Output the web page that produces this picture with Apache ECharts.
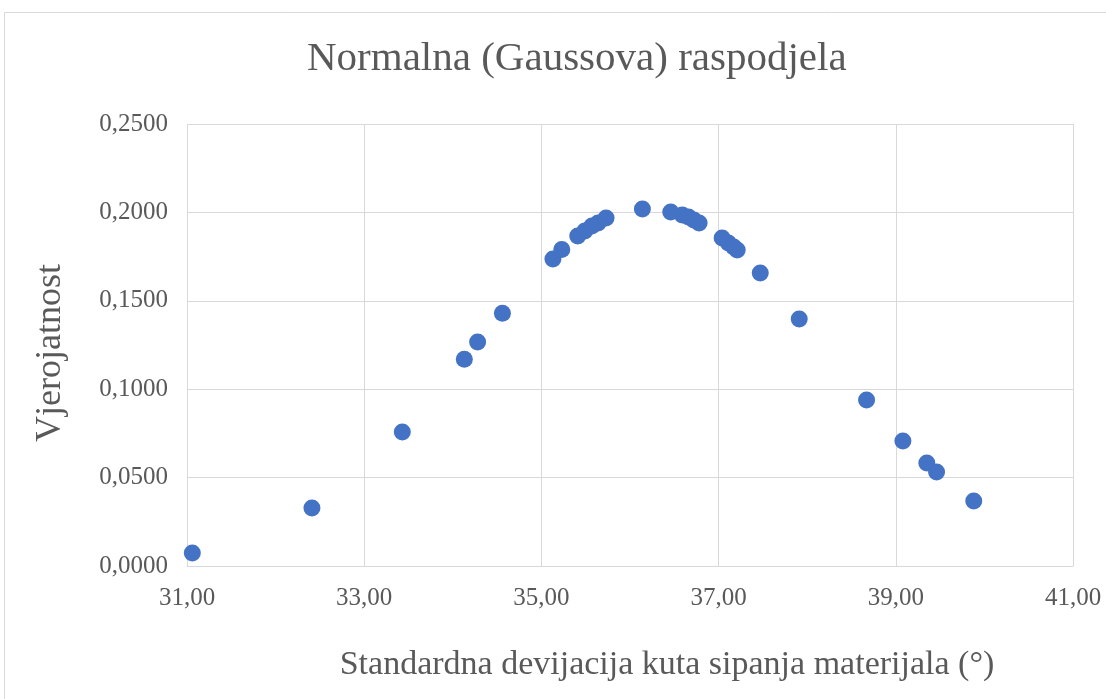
<!DOCTYPE html>
<html>
<head>
<meta charset="utf-8">
<script src="https://cdn.jsdelivr.net/npm/echarts@6/dist/echarts.min.js"></script>
<style>
  html, body { margin: 0; padding: 0; background: #fff; }
  #chart { width: 1106px; height: 699px; }
</style>
</head>
<body>
<div id="chart"></div>
<script>
  // standardna devijacija kuta sipanja (°)
  const xValues = [
    31.06, 32.41, 33.43, 34.13, 34.28, 34.56, 35.13, 35.23,
    35.41, 35.49, 35.57, 35.64, 35.73, 36.14, 36.46, 36.59,
    36.66, 36.72, 36.78, 37.04, 37.11, 37.17, 37.21, 37.47,
    37.91, 38.67, 39.08, 39.35, 39.46, 39.88
  ]
  // vjerojatnost
  const yValues = [
    0.0074, 0.0328, 0.0758, 0.1170, 0.1267, 0.1430, 0.1736, 0.1790,
    0.1866, 0.1895, 0.1923, 0.1940, 0.1968, 0.2019, 0.2002, 0.1985,
    0.1974, 0.1957, 0.1940, 0.1855, 0.1827, 0.1804, 0.1787, 0.1657,
    0.1397, 0.0939, 0.0707, 0.0583, 0.0532, 0.0368
  ]

  const points = xValues.map((x, i) => [x, yValues[i]])
  const serif = '"Liberation Serif", "DejaVu Serif", serif'
  const gray = '#595959'

  let chart = echarts.init(document.getElementById('chart'))
  let option = {
    backgroundColor: '#fff',
    animation: false,
    graphic: [{
      type: 'rect',
      shape: { x: 4.5, y: 12.5, width: 1120, height: 720 },
      style: { fill: 'none', stroke: '#d9d9d9', lineWidth: 1 },
      silent: true
    }],
    title: {
      text: 'Normalna (Gaussova) raspodjela',
      left: 302,
      top: 34,
      textStyle: {
        fontFamily: serif,
        fontSize: 41,
        fontWeight: 'normal',
        color: gray
      }
    },
    grid: {
      left: 187,
      right: 33,
      top: 124,
      bottom: 133
    },
    xAxis: {
      type: 'value',
      min: 31,
      max: 41,
      interval: 2,
      name: 'Standardna devijacija kuta sipanja materijala (°)',
      nameLocation: 'middle',
      nameGap: 82,
      nameTextStyle: {
        fontFamily: serif,
        fontSize: 34,
        color: gray,
        padding: [0, 0, 0, 74]
      },
      axisLine: { lineStyle: { color: '#d9d9d9' } },
      axisTick: { show: false },
      axisLabel: {
        fontFamily: serif,
        fontSize: 25,
        color: gray,
        margin: 20,
        formatter: (val) => val.toFixed(2).replace('.', ',')
      },
      splitLine: { lineStyle: { color: '#d9d9d9' } }
    },
    yAxis: {
      type: 'value',
      min: 0,
      max: 0.25,
      interval: 0.05,
      name: 'Vjerojatnost',
      nameLocation: 'middle',
      nameGap: 118,
      nameTextStyle: {
        fontFamily: serif,
        fontSize: 36,
        color: gray,
        padding: [0, 16, 0, 0]
      },
      axisLine: { show: false },
      axisTick: { show: false },
      axisLabel: {
        fontFamily: serif,
        fontSize: 25,
        color: gray,
        margin: 19,
        formatter: (val) => val.toFixed(4).replace('.', ',')
      },
      splitLine: { lineStyle: { color: '#d9d9d9' } }
    },
    series: [{
      type: 'scatter',
      data: points,
      symbolSize: 17,
      itemStyle: { color: '#4472c4', opacity: 1 }
    }]
  }
  chart.setOption(option)

  window.addEventListener('resize', function () {
    chart.resize()
  })
</script>
</body>
</html>
